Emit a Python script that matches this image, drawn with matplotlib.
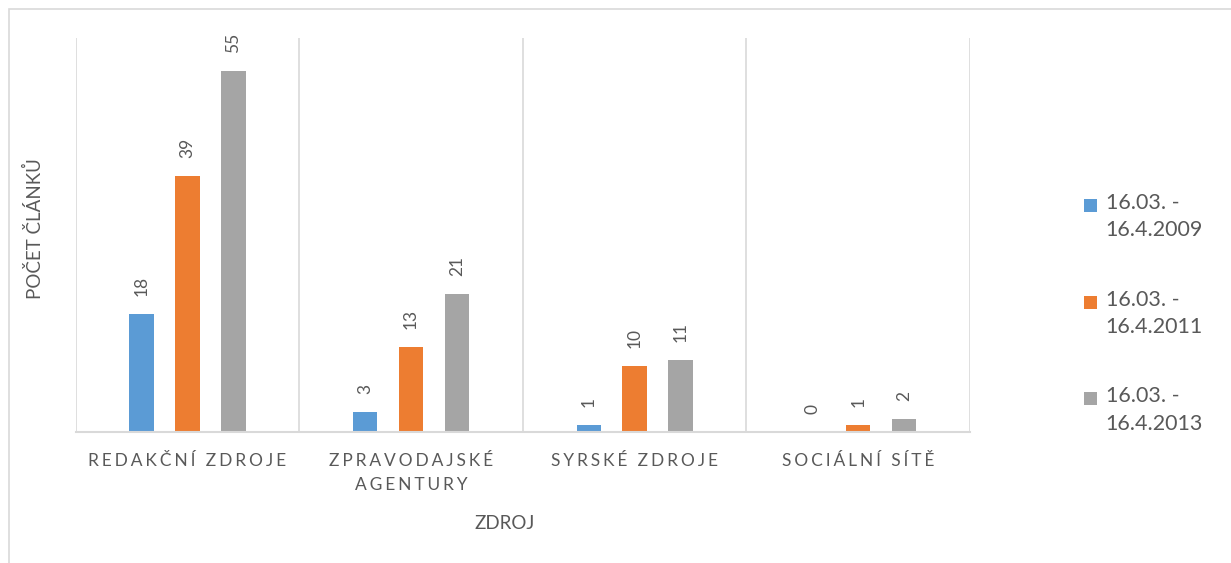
import numpy as np
import matplotlib.pyplot as plt
from matplotlib.patches import Rectangle
from matplotlib.legend_handler import HandlerPatch

categories = ['REDAKČNÍ ZDROJE', 'ZPRAVODAJSKÉ\nAGENTURY', 'SYRSKÉ ZDROJE', 'SOCIÁLNÍ SÍTĚ']
series_names = ['16.03. -\n16.4.2009', '16.03. -\n16.4.2011', '16.03. -\n16.4.2013']
values_2009 = [18, 3, 1, 0]
values_2011 = [39, 13, 10, 1]
values_2013 = [55, 21, 11, 2]

colors = ['#5b9bd5', '#ed7d31', '#a5a5a5']
text_col = '#595959'
line_col = '#d9d9d9'

plt.rcParams['font.family'] = ['Lato', 'DejaVu Sans']


def spaced(s):
    # Excel-style letter spacing on the category axis
    return '\n'.join('\u2006'.join(line) for line in s.split('\n'))


def top_square(legend, orig_handle, xdescent, ydescent, width, height, fontsize):
    # square aligned with the first text line, like Excel does
    s = width
    return Rectangle((-xdescent, -ydescent + height - s - 0.02 * fontsize), s, s)


fig = plt.figure(figsize=(12.31, 5.63), dpi=100)
# chart frame (cropped at right and bottom)
fig.patches.append(Rectangle((8.5 / 1231, -0.1), 1.2, 1 - 9.3 / 563 + 0.1,
                             transform=fig.transFigure, fill=False,
                             edgecolor=line_col, linewidth=1.2))

ax = fig.add_axes([75.7 / 1231, 131 / 563, (970 - 75.7) / 1231, (432 - 38) / 563])

x = np.arange(len(categories))
width = 0.109
offsets = [-0.205, 0.0, 0.205]
all_values = [values_2009, values_2011, values_2013]

handles = []
for vals, off, col, name in zip(all_values, offsets, colors, series_names):
    bars = ax.bar(x + off, vals, width, color=col, label=name)
    handles.append(bars.patches[0])
    for b, v in zip(bars, vals):
        ax.annotate(str(v), (b.get_x() + b.get_width() / 2, b.get_height()),
                    xytext=(0, 13), textcoords='offset points',
                    rotation=90, ha='center', va='bottom',
                    fontsize=12.5, color=text_col)

ax.set_xlim(-0.5, len(categories) - 0.5)
ax.set_ylim(0, 60)
ax.set_yticks([])
ax.set_xticks(x)
ax.set_xticklabels([spaced(c) for c in categories], fontsize=12.5,
                   color=text_col, linespacing=1.6)
ax.tick_params(axis='x', length=0, pad=15)

# vertical separators between categories
for bx in np.arange(-0.5, len(categories), 1.0):
    ax.axvline(bx, color=line_col, linewidth=1.2, zorder=0)

for s in ['top', 'right', 'left']:
    ax.spines[s].set_visible(False)
ax.spines['bottom'].set_color(line_col)
ax.spines['bottom'].set_linewidth(1.5)

ax.set_xlabel('ZDROJ', fontsize=13.5, color=text_col)
ax.xaxis.set_label_coords((505 - 75.7) / 894.3, (432 - 515) / 394)
ax.set_ylabel('POČET ČLÁNKŮ', fontsize=13.5, color=text_col)
ax.yaxis.set_label_coords((44 - 75.7) / 894.3, (432 - 229) / 394)

leg = fig.legend(handles, series_names, loc='upper left',
                 bbox_to_anchor=(1084 / 1231, 1 - 193 / 563),
                 frameon=False, fontsize=15.5, labelcolor=text_col,
                 borderpad=0, borderaxespad=0,
                 handlelength=0.6, handleheight=2.4, handletextpad=0.4,
                 labelspacing=2.3,
                 handler_map={Rectangle: HandlerPatch(patch_func=top_square)})
for t in leg.get_texts():
    t.set_linespacing(1.45)

fig.savefig('out.png', dpi=100)
